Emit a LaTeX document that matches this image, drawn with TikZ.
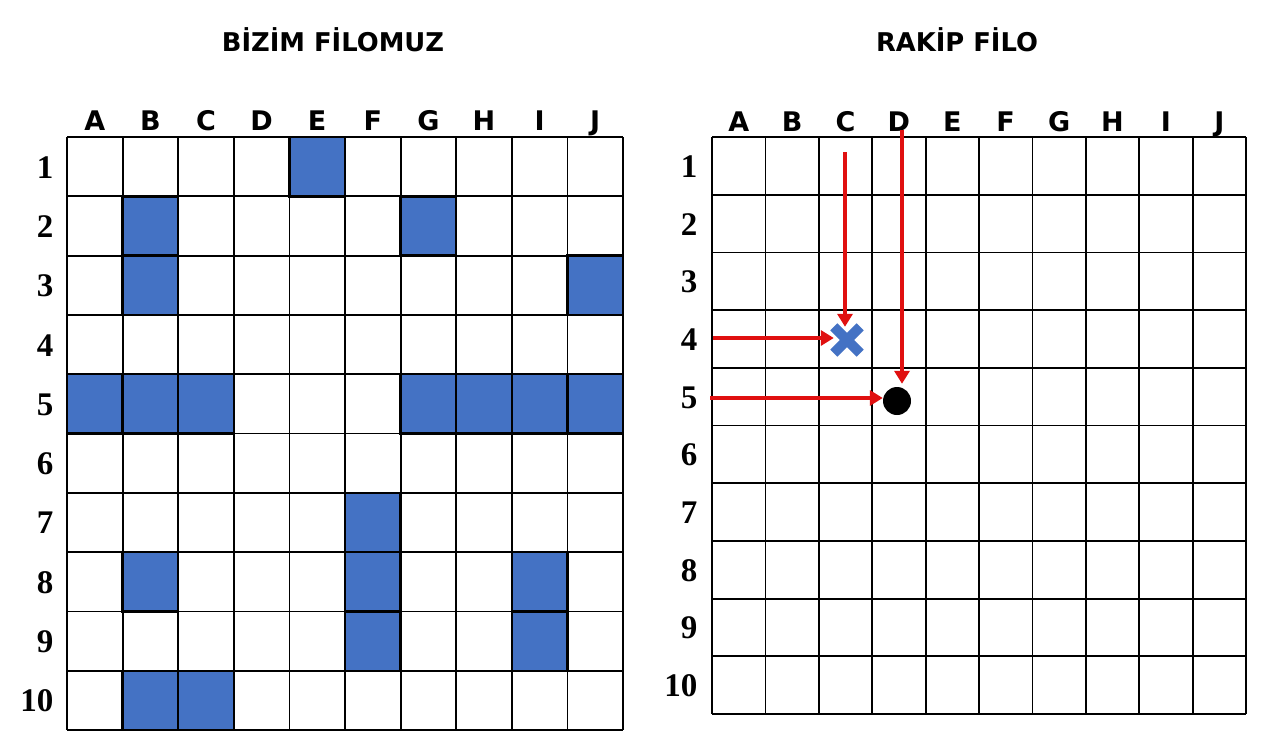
\documentclass[tikz,border=0pt]{standalone}
\usepackage{fontspec}
\newfontfamily\hdfont{DejaVu Sans}
\newfontfamily\numfont{Liberation Serif}
\usetikzlibrary{arrows.meta}
\definecolor{shipblue}{HTML}{4472C4}
\definecolor{arrowred}{HTML}{E01010}
\begin{document}
\begin{tikzpicture}[x=1pt,y=-1pt,
  gridline/.style={line width=1.8pt,black},
  ship/.style={fill=shipblue,draw=black,line width=2.4pt},
  title/.style={font=\hdfont\bfseries\fontsize{25.8}{28}\selectfont,anchor=base},
  collabel/.style={font=\hdfont\bfseries\fontsize{27}{30}\selectfont,anchor=base},
  rowlabel/.style={font=\numfont\bfseries\fontsize{33}{36}\selectfont,anchor=base east},
  shot/.style={arrowred,line width=4.5pt,-{Triangle[length=13pt,width=15pt]}},
  xmark/.style={shipblue,line width=10pt}]
\useasboundingbox (0,0) rectangle (1280,739);
\fill[white] (0,0) rectangle (1280,739);
% ---------- left board ----------
\def\LX{67}\def\LDX{55.6}\def\LY{137}\def\LDY{59.3}
\node[title] (ttl) at (333,51) {BİZİM FİLOMUZ};
\foreach \i in {0,...,10}{
  \draw[gridline] ({\LX+\i*\LDX},\LY) -- ({\LX+\i*\LDX},{\LY+10*\LDY});
  \draw[gridline] (\LX,{\LY+\i*\LDY}) -- ({\LX+10*\LDX},{\LY+\i*\LDY});
}
\foreach \c/\r in {5/1,2/2,7/2,2/3,10/3,1/5,2/5,3/5,7/5,8/5,9/5,10/5,6/7,2/8,6/8,9/8,6/9,9/9,2/10,3/10}
  \draw[ship] ({\LX+(\c-1)*\LDX},{\LY+(\r-1)*\LDY}) rectangle ++(\LDX,\LDY);
\foreach \l [count=\i] in {A,B,C,D,E,F,G,H,I,J}
  \node[collabel] (lc\i) at ({\LX+(\i-0.5)*\LDX},130) {\l};
\foreach \r in {1,...,10}
  \node[rowlabel] (lr\r) at (57,{\LY+(\r-0.5)*\LDY+11.5}) {\r};
% ---------- right board ----------
\def\RX{712}\def\RDX{53.4}\def\RY{137}\def\RDY{57.7}
\node[title] (ttr) at (957,51) {RAKİP FİLO};
\foreach \i in {0,...,10}{
  \draw[gridline] ({\RX+\i*\RDX},\RY) -- ({\RX+\i*\RDX},{\RY+10*\RDY});
  \draw[gridline] (\RX,{\RY+\i*\RDY}) -- ({\RX+10*\RDX},{\RY+\i*\RDY});
}
\foreach \l [count=\i] in {A,B,C,D,E,F,G,H,I,J}
  \node[collabel] (rc\i) at ({\RX+(\i-0.5)*\RDX},131) {\l};
\foreach \r in {1,...,10}
  \node[rowlabel] (rr\r) at (701,{\RY+(\r-0.5)*\RDY+11.5}) {\r};
% shots
\node[minimum size=26pt,inner sep=0pt] (hit) at (847,340) {};
\draw[xmark] (hit.north west) -- (hit.south east);
\draw[xmark] (hit.north east) -- (hit.south west);
\node[circle,fill=black,minimum size=28pt,inner sep=0pt] (miss) at (897,401) {};
\coordinate (cstart) at (845,152);
\coordinate (dstart) at (902,130);
\coordinate (r4start) at (713,338);
\coordinate (r5start) at (710,398);
\draw[shot] (cstart) -- (cstart |- hit.north);
\draw[shot] (r4start) -- (r4start -| hit.west);
\draw[shot,shorten >=3pt] (dstart) -- (dstart |- miss.north);
\draw[shot] (r5start) -- (r5start -| miss.west);
\end{tikzpicture}
\end{document}
